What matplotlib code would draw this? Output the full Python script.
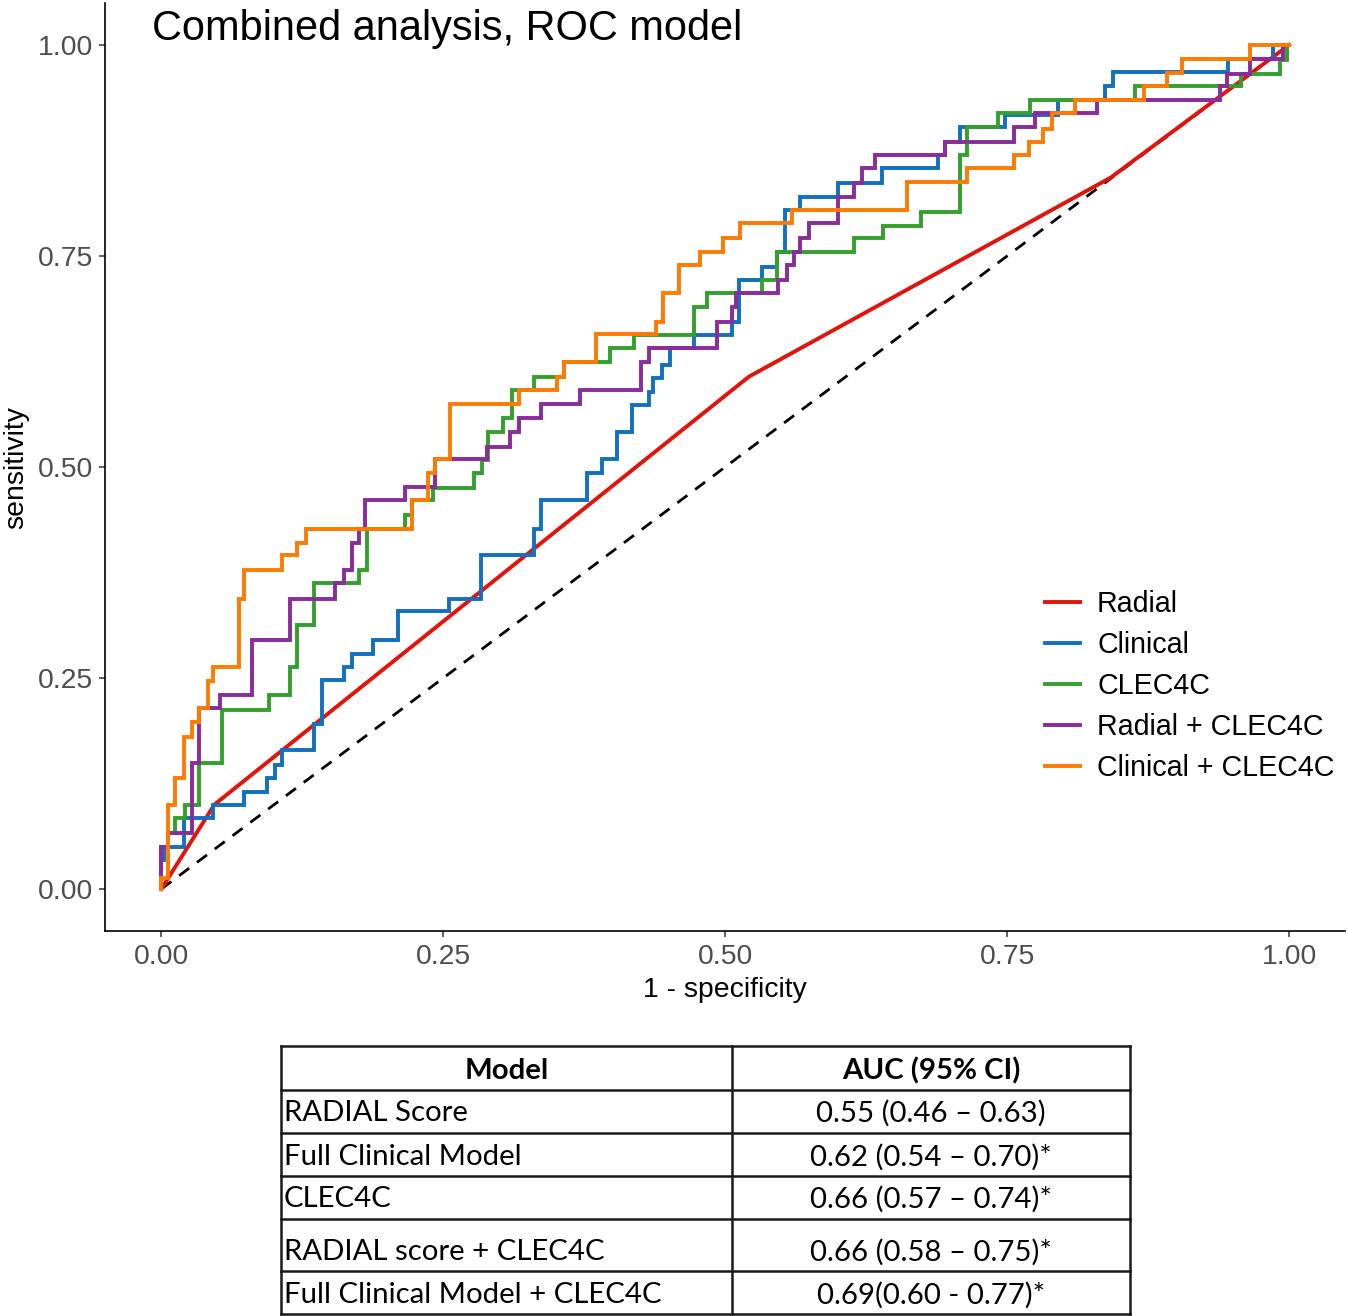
import matplotlib
matplotlib.use("Agg")
import matplotlib.pyplot as plt
from matplotlib.lines import Line2D

plt.rcParams['font.family'] = ['Liberation Sans', 'DejaVu Sans']

# ---------------- data ----------------
radial_fpr = [0, 0.047, 0.521, 0.842, 1.0]
radial_tpr = [0, 0.100, 0.607, 0.843, 1.0]

clinical_fpr = [0, 0, 0.002, 0.020, 0.046, 0.073, 0.094, 0.101, 0.107, 0.135, 0.142, 0.162, 0.169,
                0.188, 0.210, 0.255, 0.283, 0.330, 0.337, 0.377, 0.391, 0.404, 0.417, 0.432, 0.436,
                0.444, 0.451, 0.472, 0.506, 0.512, 0.533, 0.546, 0.553, 0.566, 0.600, 0.639, 0.689,
                0.695, 0.708, 0.748, 0.795, 0.837, 0.844, 0.946, 0.986, 1.0]
clinical_tpr = [0, 0.034, 0.050, 0.084, 0.100, 0.115, 0.131, 0.147, 0.165, 0.196, 0.248, 0.263, 0.279,
                0.295, 0.329, 0.344, 0.396, 0.427, 0.461, 0.493, 0.509, 0.542, 0.573, 0.589, 0.605,
                0.621, 0.641, 0.656, 0.672, 0.722, 0.737, 0.755, 0.804, 0.820, 0.836, 0.854, 0.870,
                0.885, 0.903, 0.917, 0.935, 0.951, 0.968, 0.984, 1.0, 1.0]

clec_fpr = [0, 0, 0.006, 0.012, 0.021, 0.033, 0.054, 0.095, 0.114, 0.120, 0.135, 0.175, 0.182, 0.216,
            0.222, 0.241, 0.277, 0.284, 0.290, 0.303, 0.311, 0.330, 0.357, 0.398, 0.419, 0.472, 0.484,
            0.533, 0.546, 0.614, 0.640, 0.674, 0.708, 0.714, 0.742, 0.770, 0.863, 0.957, 0.992, 0.998, 1.0]
clec_tpr = [0, 0.050, 0.066, 0.084, 0.100, 0.149, 0.212, 0.230, 0.263, 0.313, 0.362, 0.378, 0.427, 0.443,
            0.461, 0.475, 0.493, 0.508, 0.542, 0.558, 0.591, 0.607, 0.624, 0.641, 0.656, 0.690, 0.706,
            0.722, 0.755, 0.771, 0.785, 0.802, 0.870, 0.903, 0.919, 0.935, 0.951, 0.966, 0.982, 1.0, 1.0]

radclec_fpr = [0, 0, 0.006, 0.027, 0.033, 0.052, 0.080, 0.114, 0.154, 0.162, 0.169, 0.175, 0.181, 0.216,
               0.243, 0.289, 0.309, 0.317, 0.337, 0.371, 0.425, 0.432, 0.493, 0.506, 0.510, 0.547, 0.555,
               0.561, 0.566, 0.574, 0.600, 0.614, 0.621, 0.633, 0.695, 0.756, 0.775, 0.830, 0.939, 0.945,
               0.965, 0.995, 1.0]
radclec_tpr = [0, 0.050, 0.066, 0.149, 0.214, 0.230, 0.295, 0.344, 0.362, 0.378, 0.410, 0.427, 0.461, 0.476,
               0.509, 0.524, 0.542, 0.558, 0.575, 0.591, 0.624, 0.641, 0.672, 0.690, 0.706, 0.722, 0.739,
               0.755, 0.771, 0.789, 0.820, 0.836, 0.854, 0.870, 0.885, 0.903, 0.919, 0.935, 0.951, 0.966,
               0.984, 1.0, 1.0]

clinclec_fpr = [0, 0, 0.006, 0.012, 0.020, 0.027, 0.033, 0.041, 0.046, 0.069, 0.073, 0.107, 0.120, 0.128,
                0.222, 0.236, 0.243, 0.256, 0.317, 0.351, 0.357, 0.385, 0.439, 0.445, 0.459, 0.478, 0.498,
                0.513, 0.559, 0.661, 0.714, 0.756, 0.769, 0.782, 0.790, 0.810, 0.871, 0.892, 0.905, 0.965, 1.0]
clinclec_tpr = [0, 0.013, 0.100, 0.132, 0.180, 0.198, 0.214, 0.246, 0.263, 0.344, 0.378, 0.396, 0.410, 0.427,
                0.461, 0.493, 0.509, 0.575, 0.591, 0.607, 0.624, 0.657, 0.672, 0.706, 0.739, 0.755, 0.771,
                0.789, 0.804, 0.838, 0.854, 0.870, 0.885, 0.901, 0.919, 0.935, 0.951, 0.967, 0.984, 1.0, 1.0]

legend_labels = ["Radial", "Clinical", "CLEC4C", "Radial + CLEC4C", "Clinical + CLEC4C"]
colors = ["#e3120b", "#1170bf", "#33a02c", "#8a2b9e", "#ff7a00"]

ticks = [0.00, 0.25, 0.50, 0.75, 1.00]
tick_labels = ["0.00", "0.25", "0.50", "0.75", "1.00"]

table_header = ["Model", "AUC (95% CI)"]
table_models = ["RADIAL Score", "Full Clinical Model", "CLEC4C",
                "RADIAL score + CLEC4C", "Full Clinical Model + CLEC4C"]
table_auc = ["0.55 (0.46 \u2013 0.63)", "0.62 (0.54 \u2013 0.70)*", "0.66 (0.57 \u2013 0.74)*",
             "0.66 (0.58 \u2013 0.75)*", "0.69(0.60 - 0.77)*"]

# ---------------- figure ----------------
W, H = 1348, 1316
fig = plt.figure(figsize=(W / 100, H / 100), dpi=100)
fig.patch.set_facecolor("white")

ax = fig.add_axes([105 / W, 1 - 931.2 / H, 1240.4 / W, 928.4 / H])
ax.set_xlim(-0.05, 1.05)
ax.set_ylim(-0.05, 1.05)

ax.plot([0, 1], [0, 1], color="black", lw=2.0, linestyle=(0, (4.5, 3.5)), zorder=1)

lw = 2.8
ax.plot(radial_fpr, radial_tpr, color=colors[0], lw=lw, zorder=2, solid_joinstyle="miter")
series = [(clinical_fpr, clinical_tpr), (clec_fpr, clec_tpr),
          (radclec_fpr, radclec_tpr), (clinclec_fpr, clinclec_tpr)]
for (fx, ty), c in zip(series, colors[1:]):
    ax.plot(fx, ty, color=c, lw=lw, drawstyle="steps-post", zorder=2, solid_joinstyle="miter")

for side in ["top", "right"]:
    ax.spines[side].set_visible(False)
for side in ["left", "bottom"]:
    ax.spines[side].set_linewidth(1.2)
    ax.spines[side].set_color("black")

ax.set_xticks(ticks)
ax.set_xticklabels(tick_labels)
ax.set_yticks(ticks)
ax.set_yticklabels(tick_labels)
ax.tick_params(axis="both", length=4.5, width=1.1, color="#333333",
               labelsize=20.4, labelcolor="#4d4d4d")
ax.tick_params(axis="x", pad=5)
ax.tick_params(axis="y", pad=4)
ax.set_xlabel("1 - specificity", fontsize=20.4, labelpad=5)
ax.set_ylabel("sensitivity", fontsize=20.4, labelpad=6)

fig.text(152 / W, 1 - 29 / H, "Combined analysis, ROC model", fontsize=29.9,
         ha="left", va="center", color="black")

handles = [Line2D([], [], color=c, lw=lw) for c in colors]
leg = ax.legend(handles, legend_labels, loc="center left",
                bbox_to_anchor=(1045 / W, 1 - 686 / H), bbox_transform=fig.transFigure,
                frameon=False, fontsize=20.6, handlelength=1.22, handletextpad=0.6,
                labelspacing=0.46, borderpad=0, borderaxespad=0)

# ---------------- table ----------------
tab = fig.add_axes([0, 0, 1, 1], zorder=-1)
tab.set_xlim(0, W)
tab.set_ylim(H, 0)
tab.axis("off")

row_edges = [1046, 1090, 1133, 1176, 1219, 1271, 1314]
col_edges = [281, 732, 1130]
for yy in row_edges:
    tab.plot([col_edges[0], col_edges[-1]], [yy, yy], color="#1a1a1a", lw=1.8, solid_capstyle="projecting")
for xx in col_edges:
    tab.plot([xx, xx], [row_edges[0], row_edges[-1]], color="#1a1a1a", lw=1.8, solid_capstyle="projecting")

tfont = ["Lato", "DejaVu Sans"]
tsize = 21.2
tab.text((col_edges[0] + col_edges[1]) / 2, 1071, table_header[0], ha="center", va="center",
         fontsize=tsize, fontweight="bold", family=tfont)
tab.text(931, 1071, table_header[1], ha="center", va="center",
         fontsize=tsize, fontweight="bold", family=tfont)
text_y = [1113, 1157, 1199, 1252, 1295]
for name, auc, yy in zip(table_models, table_auc, text_y):
    tab.text(284, yy, name, ha="left", va="center", fontsize=tsize, family=tfont)
    tab.text(931, yy, auc, ha="center", va="center", fontsize=tsize, family=tfont)

fig.savefig("out.png", dpi=100, facecolor="white")
